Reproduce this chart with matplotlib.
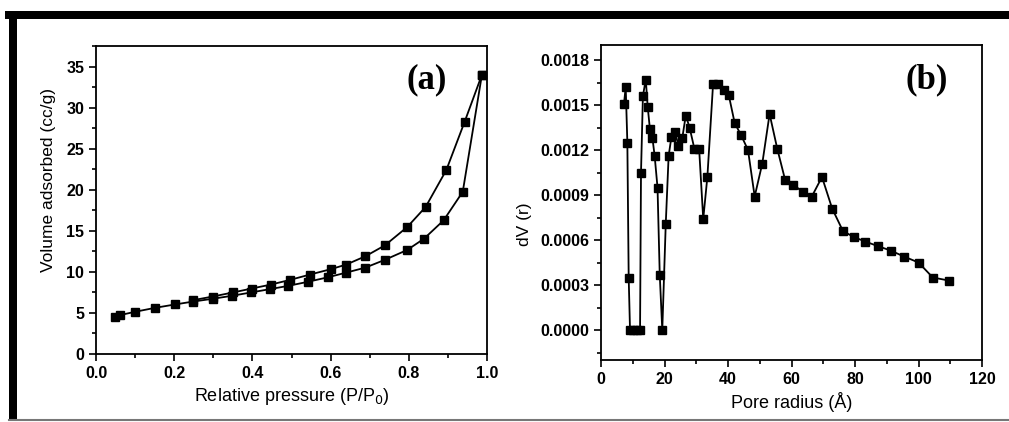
import matplotlib
matplotlib.use("Agg")
import matplotlib.pyplot as plt
from matplotlib.ticker import MultipleLocator, FormatStrFormatter
from matplotlib.lines import Line2D
from matplotlib.patches import Rectangle

# ── Data ──────────────────────────────────────────────────────────────────────
# (a) N2 isotherm: adsorption (lower) and desorption (upper) branches
ads_p = [0.049, 0.061, 0.100, 0.152, 0.202, 0.249, 0.298, 0.347, 0.396, 0.444,
         0.492, 0.541, 0.594, 0.640, 0.689, 0.738, 0.796, 0.839, 0.889, 0.938, 0.987]
ads_v = [4.45, 4.73, 5.14, 5.63, 6.03, 6.39, 6.72, 7.08, 7.49, 7.89,
         8.30, 8.78, 9.35, 9.91, 10.52, 11.45, 12.67, 14.04, 16.27, 19.75, 34.0]

des_p = [0.987, 0.943, 0.896, 0.843, 0.796, 0.739, 0.689, 0.640, 0.600, 0.547,
         0.496, 0.448, 0.398, 0.350, 0.299, 0.249]
des_v = [34.0, 28.3, 22.4, 17.9, 15.46, 13.23, 11.90, 10.89, 10.32, 9.67,
         9.02, 8.46, 7.97, 7.49, 7.00, 6.56]

# (b) pore size distribution
pore_r = [7.25, 7.78, 8.3, 8.72, 9.14, 10.2, 11.2, 12.3, 12.6, 13.2,
          14.1, 14.7, 15.4, 16.2, 16.9, 17.8, 18.5, 19.3, 20.4, 21.3,
          22.2, 23.3, 24.4, 25.6, 26.7, 27.9, 29.4, 30.9, 32.2, 33.5,
          35.3, 36.9, 38.6, 40.2, 42.1, 44.1, 46.3, 48.4, 50.8, 53.1,
          55.5, 58.0, 60.6, 63.5, 66.4, 69.6, 72.8, 76.2, 79.6, 83.2,
          87.1, 91.2, 95.4, 100.0, 104.5, 109.5]
dv_r = [0.00151, 0.00162, 0.00125, 0.00035, 0.0, 0.0, 0.0, 0.0, 0.00105, 0.00156,
        0.00167, 0.00149, 0.00134, 0.00128, 0.00116, 0.00095, 0.00037, 0.0, 0.00071, 0.00116,
        0.00129, 0.00132, 0.00123, 0.00128, 0.00143, 0.00135, 0.00121, 0.00121, 0.00074, 0.00102,
        0.00164, 0.00164, 0.00160, 0.00157, 0.00138, 0.00130, 0.00120, 0.00089, 0.00111, 0.00144,
        0.00121, 0.00100, 0.00097, 0.00092, 0.00089, 0.00102, 0.00081, 0.00066, 0.00062, 0.00059,
        0.00056, 0.00053, 0.00049, 0.00045, 0.00035, 0.00033]

# ── Style ─────────────────────────────────────────────────────────────────────
plt.rcParams["font.family"] = ["Liberation Sans", "DejaVu Sans"]

W, H = 1009, 422
fig = plt.figure(figsize=(W / 100, H / 100), dpi=100)
fig.patch.set_facecolor("white")

def px_axes(left, top, right, bottom):
    return fig.add_axes([left / W, 1 - bottom / H, (right - left) / W, (bottom - top) / H])

line_kw = dict(color="black", linewidth=1.3, marker="s", markersize=5.5,
               markerfacecolor="black", markeredgecolor="black")

def style(ax):
    for sp in ax.spines.values():
        sp.set_linewidth(1.3)
    ax.tick_params(which="both", direction="out", top=False, right=False, width=1.2)
    ax.tick_params(which="major", length=5, labelsize=11.5)
    ax.tick_params(which="minor", length=3)
    for lab in ax.get_xticklabels() + ax.get_yticklabels():
        lab.set_fontweight("bold")

# ── (a) isotherm ──────────────────────────────────────────────────────────────
ax1 = px_axes(96, 46, 487, 354)
ax1.plot(ads_p, ads_v, **line_kw)
ax1.plot(des_p, des_v, **line_kw)
ax1.set_xlim(0, 1.0)
ax1.set_ylim(0, 37.5)
ax1.xaxis.set_major_locator(MultipleLocator(0.2))
ax1.xaxis.set_minor_locator(MultipleLocator(0.1))
ax1.xaxis.set_major_formatter(FormatStrFormatter("%.1f"))
ax1.yaxis.set_major_locator(MultipleLocator(5))
ax1.yaxis.set_minor_locator(MultipleLocator(2.5))
style(ax1)
ax1.set_xlabel("Relative pressure (P/P$_0$)", fontsize=13, labelpad=4)
ax1.set_ylabel("Volume adsorbed (cc/g)", fontsize=12.5, labelpad=7)
ax1.yaxis.label.set_y(0.565)
ax1.text(0.845, 0.89, "(a)", transform=ax1.transAxes, ha="center", va="center",
         fontsize=25, fontweight="bold", family="Liberation Serif")

# ── (b) pore size distribution ────────────────────────────────────────────────
ax2 = px_axes(601, 45, 982, 360)
ax2.plot(pore_r, dv_r, **line_kw)
ax2.set_xlim(0, 120)
ax2.set_ylim(-0.0002, 0.0019)
ax2.xaxis.set_major_locator(MultipleLocator(20))
ax2.xaxis.set_minor_locator(MultipleLocator(10))
ax2.yaxis.set_major_locator(MultipleLocator(0.0003))
ax2.yaxis.set_minor_locator(MultipleLocator(0.00015))
ax2.yaxis.set_major_formatter(FormatStrFormatter("%.4f"))
style(ax2)
ax2.set_xlabel("Pore radius (Å)", fontsize=13, labelpad=4)
ax2.set_ylabel("dV (r)", fontsize=12.5, labelpad=6)
ax2.yaxis.label.set_y(0.43)
ax2.text(0.855, 0.89, "(b)", transform=ax2.transAxes, ha="center", va="center",
         fontsize=25, fontweight="bold", family="Liberation Serif")

# ── Frame around the figure ───────────────────────────────────────────────────
fig.add_artist(Rectangle((5 / W, 1 - 19 / H), 1 - 5 / W, 8 / H, transform=fig.transFigure,
                         facecolor="black", edgecolor="none"))
fig.add_artist(Rectangle((9 / W, 1 - 420 / H), 8 / W, 409 / H, transform=fig.transFigure,
                         facecolor="black", edgecolor="none"))
fig.add_artist(Line2D([9 / W, 1], [1 - 420 / H, 1 - 420 / H], transform=fig.transFigure,
                      color="#777777", linewidth=1.5))

fig.savefig("out.png", dpi=100)
